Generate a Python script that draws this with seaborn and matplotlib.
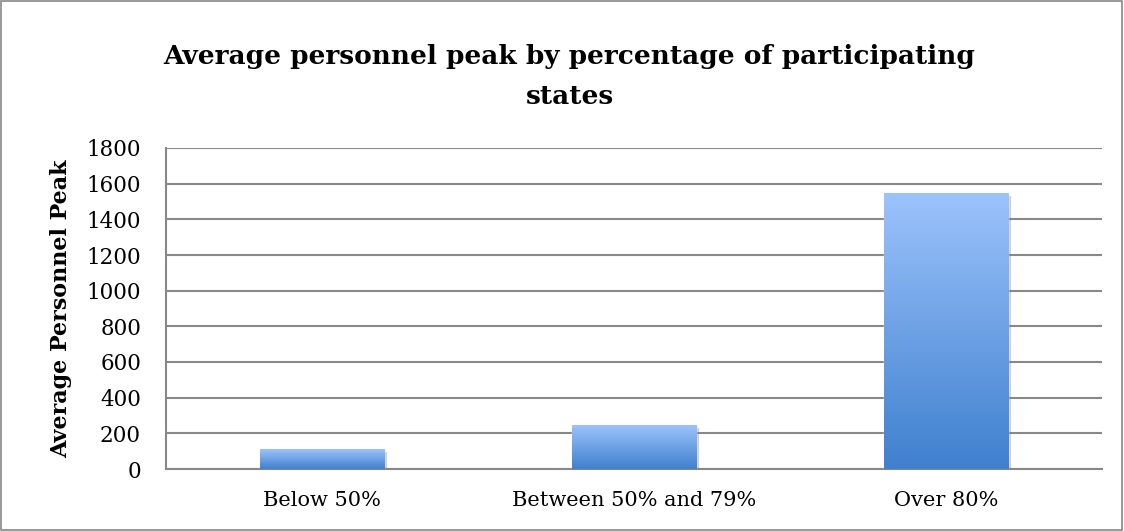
import numpy as np
import pandas as pd
import matplotlib
matplotlib.use('Agg')
import matplotlib.pyplot as plt
import matplotlib.patheffects as pe
from matplotlib.colors import LinearSegmentedColormap
from matplotlib.patches import Rectangle
import seaborn as sns

# Datos del gráfico
categories = ['Below 50%', 'Between 50% and 79%', 'Over 80%']
peak_values = [110, 245, 1545]
y_ticks = [0, 200, 400, 600, 800, 1000, 1200, 1400, 1600, 1800]

data = pd.DataFrame({'group': categories, 'peak': peak_values})

sns.set_style('white')
plt.rcParams['font.family'] = ['DejaVu Serif']
plt.rcParams['text.color'] = 'black'
plt.rcParams['xtick.color'] = 'black'
plt.rcParams['ytick.color'] = 'black'
plt.rcParams['axes.labelcolor'] = 'black'

fig = plt.figure(figsize=(11.24, 5.31), dpi=100)
ax = fig.add_axes([166 / 1124, 1 - 469 / 531, (1102 - 166) / 1124, (469 - 148) / 531])

sns.barplot(x='group', y='peak', data=data, color='#6fa3ea', width=0.4, ax=ax,
            saturation=1, zorder=3)

ax.set_ylim(0, 1800)
ax.set_xlim(-0.5, 2.5)
ax.set_yticks(y_ticks)
ax.yaxis.grid(True, color='#888888', linewidth=1.5, zorder=0)
ax.set_axisbelow(True)

for s in ['top', 'right']:
    ax.spines[s].set_visible(False)
for s in ['left', 'bottom']:
    ax.spines[s].set_color('#888888')
    ax.spines[s].set_linewidth(1.5)

ax.tick_params(axis='y', length=0, pad=18, labelsize=15.5)
ax.tick_params(axis='x', length=0, pad=16, labelsize=15)

# Degradado en cada barra
cmap = LinearSegmentedColormap.from_list('azul', ['#3f80ce', '#9cc3fc'])
grad = np.linspace(0, 1, 256).reshape(-1, 1)
for p in ax.patches:
    x, y, w, h = p.get_x(), p.get_y(), p.get_width(), p.get_height()
    p.set_path_effects([pe.SimplePatchShadow(offset=(2, -2), shadow_rgbFace='#777777', alpha=0.35), pe.Normal()])
    ax.imshow(grad, cmap=cmap, origin='lower', aspect='auto',
              extent=[x, x + w, y, y + h], zorder=4)
ax.set_ylim(0, 1800)
ax.set_xlim(-0.5, 2.5)

ax.set_xlabel('')
ax.set_ylabel('Average Personnel Peak', fontsize=16, fontweight='bold')
ax.yaxis.set_label_coords(61 / 1124, 1 - 308.5 / 531, transform=fig.transFigure)
ax.yaxis.label.set_va('center')

fig.text(0.5067, 1 - 44 / 531, 'Average personnel peak by percentage of participating\nstates',
         ha='center', va='top', multialignment='center',
         fontsize=19, fontweight='bold', linespacing=1.75)

# Borde del área del gráfico
fig.patches.append(Rectangle((0.001, 0.002), 0.997, 0.996, transform=fig.transFigure,
                             fill=False, edgecolor='#888888', linewidth=1.2))

plt.savefig('out.png', dpi=100)
